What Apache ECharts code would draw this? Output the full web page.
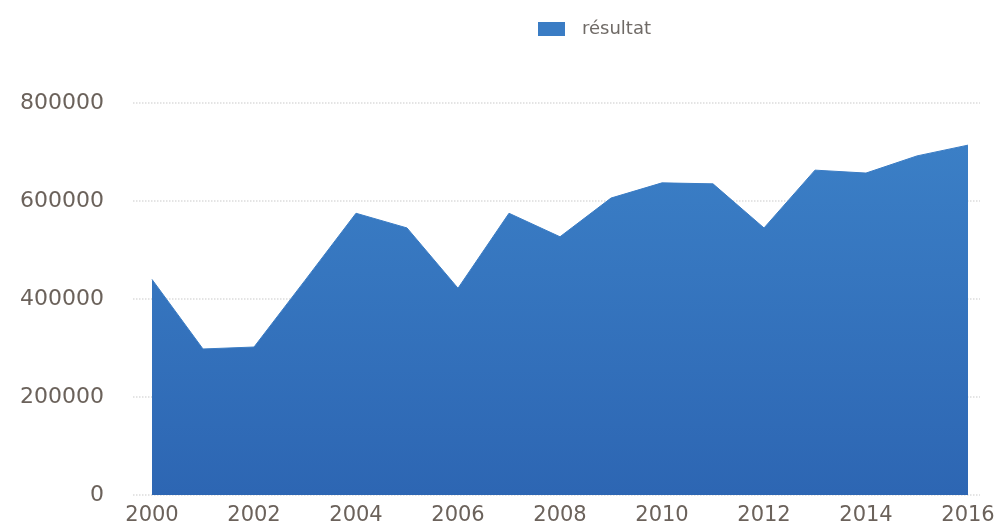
<!DOCTYPE html>
<html>
<head>
<meta charset="utf-8">
<script src="https://cdn.jsdelivr.net/npm/echarts@6/dist/echarts.min.js"></script>
<style>html,body{margin:0;padding:0;background:#fff}#c{width:1001px;height:530px}</style>
</head>
<body>
<div id="c"></div>
<script>
var years = ['2000','2001','2002','2003','2004','2005','2006','2007','2008','2009','2010','2011','2012','2013','2014','2015','2016'];
var resultat = [440000, 298000, 302000, 438000, 575000, 545000, 422000, 575000, 527000, 606000, 637000, 635000, 545000, 663000, 657000, 692000, 714000];
var seriesName = 'résultat';
var yMin = 0, yMax = 800000, yStep = 200000;

var chart = echarts.init(document.getElementById('c'));
chart.setOption({
  animation: false,
  legend: {
    left: 533, top: 15,
    itemWidth: 27, itemHeight: 14, itemGap: 10,
    textStyle: {fontFamily: 'DejaVu Sans', fontSize: 18, color: '#6f6a66', padding: [0, 0, 0, 12]},
    data: [{name: seriesName, icon: 'rect'}]
  },
  grid: [
    {left: 133, right: 21, top: 103, bottom: 35},
    {left: 152, right: 33, top: 103, bottom: 35}
  ],
  xAxis: [
    {gridIndex: 0, type: 'category', data: years, show: false},
    {gridIndex: 1, type: 'category', data: years, boundaryGap: false,
     axisLine: {show: false}, axisTick: {show: false},
     axisLabel: {interval: 1, margin: 10, fontFamily: 'DejaVu Sans', fontSize: 21, color: '#6b625b'}}
  ],
  yAxis: [
    {gridIndex: 0, type: 'value', min: yMin, max: yMax, interval: yStep,
     axisLine: {show: false}, axisTick: {show: false},
     axisLabel: {margin: 29, fontFamily: 'DejaVu Sans', fontSize: 22, color: '#6b625b',
                 formatter: function (v) { return String(v); }},
     splitLine: {show: true, lineStyle: {color: '#dcdcdc', type: 'dotted', width: 1.5}}},
    {gridIndex: 1, type: 'value', min: yMin, max: yMax, interval: yStep, show: false,
     splitLine: {show: false}}
  ],
  series: [{
    name: seriesName,
    type: 'line',
    xAxisIndex: 1, yAxisIndex: 1,
    data: resultat,
    symbol: 'none',
    lineStyle: {width: 1, color: '#3a7cc4'},
    itemStyle: {color: '#3a7cc4'},
    areaStyle: {
      opacity: 1,
      color: new echarts.graphic.LinearGradient(0, 0, 0, 1, [
        {offset: 0, color: '#3b7fc6'},
        {offset: 1, color: '#2d66b3'}
      ])
    }
  }]
});
</script>
</body>
</html>
